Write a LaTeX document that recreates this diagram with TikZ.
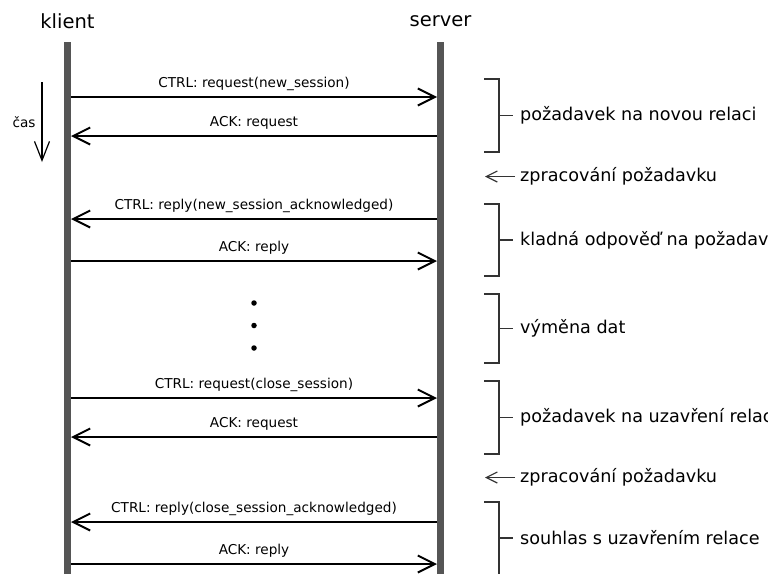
\documentclass[tikz,border=0pt]{standalone}
\usepackage{fontspec}
\setmainfont{DejaVu Sans}
\usetikzlibrary{arrows.meta}
\definecolor{lifegray}{HTML}{555555}
\definecolor{bracketgray}{HTML}{333333}
\begin{document}
\begin{tikzpicture}[x=1pt,y=-1pt,
  title/.style={font=\fontsize{19.5}{22}\selectfont, inner sep=0pt},
  lifeline/.style={line width=6.5pt, draw=lifegray},
  msg/.style={line width=2pt, -{Straight Barb[length=17pt,width=17pt]}},
  msglabel/.style={font=\fontsize{13.6}{16}\selectfont, anchor=base, inner sep=0pt, yshift=10pt},
  note/.style={font=\fontsize{17.6}{20}\selectfont, anchor=west, inner sep=0pt},
  bracketline/.style={line width=1.5pt, draw=bracketgray},
  smallarrow/.style={line width=1.2pt, draw=bracketgray, -{Straight Barb[length=11pt,width=11pt]}},
  timearrow/.style={line width=1.2pt, -{Straight Barb[length=19pt,width=15pt]}},
  dot/.style={circle, fill=black, inner sep=0pt, minimum size=5.5pt}
]
\useasboundingbox (0,0) rectangle (768,573);
\clip (0,0) rectangle (768,573);

% participants
\node[title] (klient) at (67.5,21.5) {klient};
\node[title] (server) at (440.5,21.5) {server};

% lifelines
\coordinate (kTop) at (67.5,42);
\coordinate (kBot) at (67.5,575);
\coordinate (sTop) at (440.5,42);
\coordinate (sBot) at (440.5,575);
\draw[lifeline] (kTop) -- (kBot);
\draw[lifeline] (sTop) -- (sBot);

% time axis
\coordinate (tA) at (42,82);
\coordinate (tB) at (42,162);
\draw[timearrow] (tA) -- (tB);
\node[font=\fontsize{13.6}{16}\selectfont, inner sep=0pt] (cas) at (24,122) {čas};

% message endpoints on both lifelines
\foreach \i/\y in {1/97,2/136,3/219,4/261,5/398,6/437,7/522,8/564}{
  \coordinate (k\i) at (71,\y);
  \coordinate (s\i) at (437,\y);
}

% messages
\draw[msg] (k1) -- node[msglabel] {CTRL: request(new\_session)} (s1);
\draw[msg] (s2) -- node[msglabel] {ACK: request} (k2);
\draw[msg] (s3) -- node[msglabel] {CTRL: reply(new\_session\_acknowledged)} (k3);
\draw[msg] (k4) -- node[msglabel] {ACK: reply} (s4);
\draw[msg] (k5) -- node[msglabel] {CTRL: request(close\_session)} (s5);
\draw[msg] (s6) -- node[msglabel] {ACK: request} (k6);
\draw[msg] (s7) -- node[msglabel] {CTRL: reply(close\_session\_acknowledged)} (k7);
\draw[msg] (k8) -- node[msglabel] {ACK: reply} (s8);

% elided data exchange
\node[dot] (d1) at (254,303) {};
\node[dot] (d2) at (254,325.5) {};
\node[dot] (d3) at (254,348) {};

% phase brackets with their notes
\foreach \n/\top/\bot/\mid/\txt in {
  a/79/152/115.5/{požadavek na novou relaci},
  b/204/276/240/{kladná odpověď na požadavek},
  c/294/363/328.5/{výměna dat},
  d/381/454/417.5/{požadavek na uzavření relace},
  e/502/590/538/{souhlas s uzavřením relace}}{
  \draw[bracketline] (484,\top) -- (499,\top) -- (499,\bot) -- (484,\bot);
  \draw[bracketline] (499,\mid) -- (513,\mid);
  \node[note] (note\n) at (520,\mid) {\txt};
}

% server-side processing
\node[note] (proc1) at (520,176.5) {zpracování požadavku};
\node[note] (proc2) at (520,477.5) {zpracování požadavku};
\coordinate (p1) at (515,176.5);
\coordinate (p2) at (515,477.5);
\draw[smallarrow] (p1) -- ++(-30,0);
\draw[smallarrow] (p2) -- ++(-30,0);
\end{tikzpicture}
\end{document}
